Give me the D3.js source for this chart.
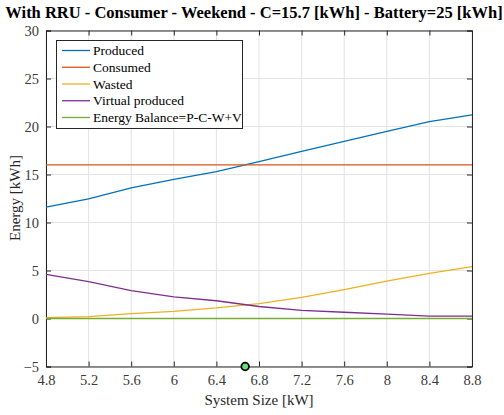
<!DOCTYPE html>
<html><head><meta charset="utf-8">
<script src="https://cdnjs.cloudflare.com/ajax/libs/d3/7.8.5/d3.min.js"></script>
<style>body{margin:0;background:#fff}svg{display:block}</style>
</head><body>
<svg id="c" width="504" height="415"></svg>
<script>
const xVals = [4.8,5.2,5.6,6.0,6.4,6.8,7.2,7.6,8.0,8.4,8.8];
const produced = [11.6,12.45,13.6,14.5,15.3,16.35,17.4,18.45,19.5,20.5,21.2];
const consumed = [16,16,16,16,16,16,16,16,16,16,16];
const wasted = [0.1,0.2,0.5,0.75,1.1,1.55,2.2,3.0,3.9,4.7,5.4];
const virtualProduced = [4.6,3.85,2.9,2.25,1.85,1.25,0.85,0.65,0.45,0.25,0.25];
const balance = [0,0,0,0,0,0,0,0,0,0,0];
const seriesNames = ["Produced","Consumed","Wasted","Virtual produced","Energy Balance=P-C-W+V"];
const seriesColors = ["#0072BD","#D95319","#EDB120","#7E2F8E","#77AC30"];
const xTicks = [4.8,5.2,5.6,6,6.4,6.8,7.2,7.6,8,8.4,8.8];
const yTicks = [-5,0,5,10,15,20,25,30];
const marker = {x:6.67, y:-5};
const title = "With RRU - Consumer - Weekend - C=15.7 [kWh] - Battery=25 [kWh]";

const svg = d3.select("#c");
const L=46, R=472, T=30.5, B=366.5;
const font = "'Liberation Serif', serif";
const x = d3.scaleLinear().domain([4.8,8.8]).range([L,R]);
const y = d3.scaleLinear().domain([-5,30]).range([B,T]);

// grid
const g = svg.append("g");
g.selectAll(".gx").data(xTicks).join("line").attr("x1",d=>x(d)).attr("x2",d=>x(d)).attr("y1",T).attr("y2",B).attr("stroke","#e3e3e3").attr("stroke-width",1);
g.selectAll(".gy").data(yTicks).join("line").attr("x1",L).attr("x2",R).attr("y1",d=>y(d)).attr("y2",d=>y(d)).attr("stroke","#e3e3e3").attr("stroke-width",1);

// axes
const axCol = "#262626";
const xa = svg.append("g").attr("transform",`translate(0,${B})`).call(d3.axisBottom(x).tickValues(xTicks).tickSize(-5).tickPadding(8).tickFormat(d=>String(+d.toFixed(1))));
const xt = svg.append("g").attr("transform",`translate(0,${T})`).call(d3.axisTop(x).tickValues(xTicks).tickSize(-5).tickFormat(""));
const ya = svg.append("g").attr("transform",`translate(${L},0)`).call(d3.axisLeft(y).tickValues(yTicks).tickSize(-5).tickPadding(7));
const yr = svg.append("g").attr("transform",`translate(${R},0)`).call(d3.axisRight(y).tickValues(yTicks).tickSize(-5).tickFormat(""));
[xa,xt,ya,yr].forEach(a=>{
  a.attr("font-family",font).attr("font-size",14);
  a.selectAll("path").attr("stroke",axCol).attr("stroke-width",1);
  a.selectAll("line").attr("stroke",axCol);
  a.selectAll("text").attr("fill","#3a3a3a").attr("font-family",font).style("font-family",font).style("font-size","14.5px");
});

// lines
const data = [produced,consumed,wasted,virtualProduced,balance];
const line = d3.line().x((d,i)=>x(xVals[i])).y(d=>y(d));
svg.append("g").selectAll("path").data(data).join("path")
  .attr("d",line).attr("fill","none").attr("stroke",(d,i)=>seriesColors[i]).attr("stroke-width",1.3);

// marker
svg.append("circle").attr("cx",x(marker.x)).attr("cy",y(marker.y)).attr("r",3.8)
  .attr("fill","#66e27a").attr("stroke","#000").attr("stroke-width",1.8);

// legend
const lg = svg.append("g");
lg.append("rect").attr("x",56.5).attr("y",40.5).attr("width",186).attr("height",88).attr("fill","#fff").attr("stroke","#262626").attr("stroke-width",1);
seriesNames.forEach((n,i)=>{
  const yy = 50.5 + i*16.75;
  lg.append("line").attr("x1",62).attr("x2",90).attr("y1",yy).attr("y2",yy).attr("stroke",seriesColors[i]).attr("stroke-width",1.3);
  lg.append("text").attr("x",93).attr("y",yy+4.5).text(n).attr("fill","#000").style("font-family",font).style("font-size","13.5px");
});

// title and labels
svg.append("text").attr("x",254).attr("y",18).attr("text-anchor","middle").text(title)
  .style("font-family",font).style("font-size","16.5px").style("font-weight","bold").attr("fill","#000");
svg.append("text").attr("x",259).attr("y",405).attr("text-anchor","middle").text("System Size [kW]")
  .style("font-family",font).style("font-size","15px").attr("fill",axCol);
svg.append("text").attr("transform","translate(20,198) rotate(-90)").attr("text-anchor","middle").text("Energy [kWh]")
  .style("font-family",font).style("font-size","15px").attr("fill",axCol);
</script>
</body></html>
